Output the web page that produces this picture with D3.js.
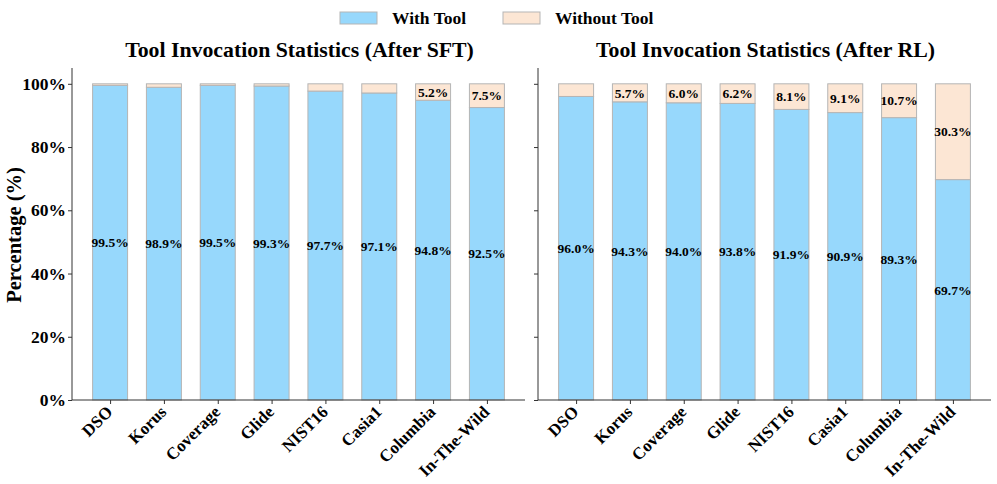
<!DOCTYPE html>
<html>
<head>
<meta charset="utf-8">
<script src="https://cdn.jsdelivr.net/npm/d3@7"></script>
<style>
  body { margin: 0; background: #fff; }
  text { font-family: "Liberation Serif", "Times New Roman", serif; font-weight: bold; }
</style>
</head>
<body>
<svg id="chart" width="997" height="484"></svg>
<script>
const datasets = ["DSO", "Korus", "Coverage", "Glide", "NIST16", "Casia1", "Columbia", "In-The-Wild"];
const sftWith = [99.5, 98.9, 99.5, 99.3, 97.7, 97.1, 94.8, 92.5];
const sftWithout = [0.5, 1.1, 0.5, 0.7, 2.3, 2.9, 5.2, 7.5];
const rlWith = [96.0, 94.3, 94.0, 93.8, 91.9, 90.9, 89.3, 69.7];
const rlWithout = [4.0, 5.7, 6.0, 6.2, 8.1, 9.1, 10.7, 30.3];
const yTicks = [0, 20, 40, 60, 80, 100];

const withColor = "#97d8fc";
const withoutColor = "#fce6d4";
const edgeColor = "#b5b5b5";

const svg = d3.select("#chart");
const yBottom = 400, yTop = 68;

const y = d3.scaleLinear().domain([0, 105]).range([yBottom, yTop]);

// matplotlib-like x limits: bar width .65 plus 5% margins
const barW = 0.65;
const span = datasets.length - 1 + barW;
const pad = span * 0.05;
const lo = -barW / 2 - pad, hi = datasets.length - 1 + barW / 2 + pad;

const panels = [
  { title: "Tool Invocation Statistics (After SFT)", left: 72, right: 525, withV: sftWith, withoutV: sftWithout, labels: true },
  { title: "Tool Invocation Statistics (After RL)", left: 538, right: 991, withV: rlWith, withoutV: rlWithout, labels: false }
];

panels.forEach(p => {
  const x = d3.scaleLinear().domain([lo, hi]).range([p.left, p.right]);
  const bw = x(barW) - x(0);
  const g = svg.append("g");

  const rows = datasets.map((d, i) => ({ name: d, i, w: p.withV[i], wo: p.withoutV[i] }));

  // with tool segment
  g.selectAll("rect.with").data(rows).join("rect")
    .attr("class", "with")
    .attr("x", d => x(d.i) - bw / 2)
    .attr("width", bw)
    .attr("y", d => y(d.w))
    .attr("height", d => y(0) - y(d.w))
    .attr("fill", withColor)
    .attr("stroke", edgeColor)
    .attr("stroke-width", 1);

  // without tool segment stacked on top
  g.selectAll("rect.without").data(rows).join("rect")
    .attr("class", "without")
    .attr("x", d => x(d.i) - bw / 2)
    .attr("width", bw)
    .attr("y", d => y(d.w + d.wo))
    .attr("height", d => y(d.w) - y(d.w + d.wo))
    .attr("fill", withoutColor)
    .attr("stroke", edgeColor)
    .attr("stroke-width", 1);

  // value labels
  g.selectAll("text.wl").data(rows).join("text")
    .attr("x", d => x(d.i))
    .attr("y", d => y(d.w / 2))
    .attr("dy", "0.35em")
    .attr("text-anchor", "middle")
    .attr("font-size", 13.5)
    .text(d => d.w.toFixed(1) + "%");

  g.selectAll("text.wol").data(rows.filter(d => d.wo > 5)).join("text")
    .attr("x", d => x(d.i))
    .attr("y", d => y(d.w + d.wo / 2))
    .attr("dy", "0.35em")
    .attr("text-anchor", "middle")
    .attr("font-size", 13.5)
    .text(d => d.wo.toFixed(1) + "%");

  // y axis
  const yAxis = g.append("g")
    .attr("transform", `translate(${p.left},0)`)
    .call(d3.axisLeft(y).tickValues(yTicks).tickSize(4).tickPadding(2)
      .tickFormat(d => p.labels ? d + "%" : ""));
  yAxis.select(".domain").attr("d", `M0,${yTop}V${yBottom}`).attr("stroke", "#333");
  yAxis.selectAll(".tick line").attr("stroke", "#333");
  yAxis.selectAll("text").attr("font-size", 17.5).attr("fill", "#000")
    .style("font-family", "Liberation Serif").style("font-weight", "bold");

  // x axis
  const xAxis = g.append("g")
    .attr("transform", `translate(0,${yBottom})`)
    .call(d3.axisBottom(x).tickValues(d3.range(datasets.length)).tickSize(4)
      .tickFormat(i => datasets[i]));
  xAxis.select(".domain").attr("d", `M${p.left},0H${p.right}`).attr("stroke", "#333");
  xAxis.selectAll(".tick line").attr("stroke", "#333");
  xAxis.selectAll("text")
    .attr("font-size", 17).attr("fill", "#000")
    .style("font-family", "Liberation Serif").style("font-weight", "bold")
    .attr("text-anchor", "end")
    .attr("dy", null)
    .attr("y", 0)
    .attr("transform", "translate(3,13) rotate(-45)");

  // title
  svg.append("text")
    .attr("x", (p.left + p.right) / 2 + 1)
    .attr("y", 57)
    .attr("text-anchor", "middle")
    .attr("font-size", 21.8)
    .text(p.title);
});

// y label
svg.append("text")
  .attr("transform", `translate(21,235) rotate(-90)`)
  .attr("text-anchor", "middle")
  .attr("font-size", 20.5)
  .text("Percentage (%)");

// legend
const legendItems = [
  { label: "With Tool", color: withColor, x: 340 },
  { label: "Without Tool", color: withoutColor, x: 503 }
];
const lg = svg.append("g").selectAll("g").data(legendItems).join("g")
  .attr("transform", d => `translate(${d.x},12)`);
lg.append("rect").attr("width", 37).attr("height", 12)
  .attr("fill", d => d.color).attr("stroke", edgeColor);
lg.append("text").attr("x", 52).attr("y", 6).attr("dy", "0.35em")
  .attr("font-size", 17.5).text(d => d.label);
</script>
</body>
</html>
